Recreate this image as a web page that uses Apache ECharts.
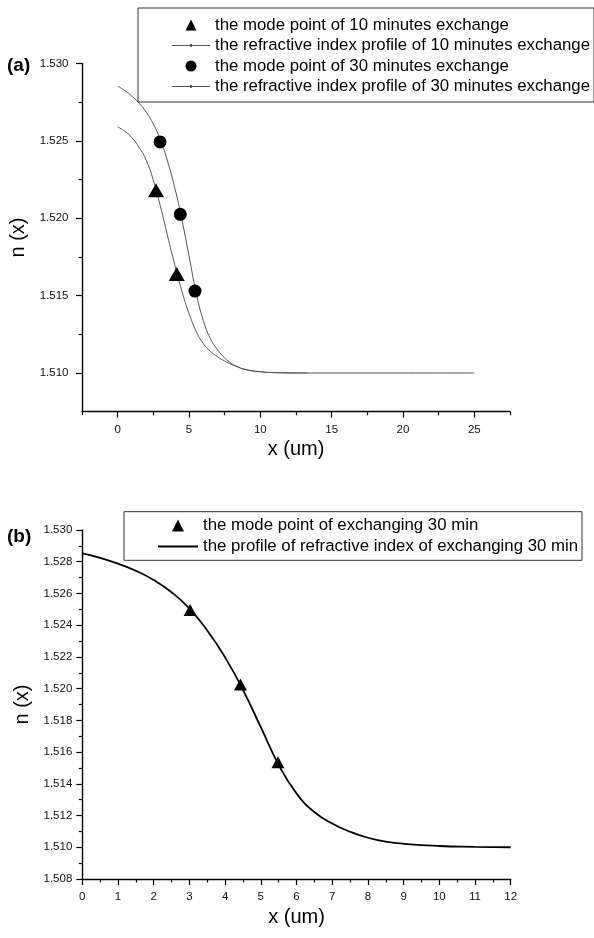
<!DOCTYPE html>
<html>
<head>
<meta charset="utf-8">
<script src="https://cdn.jsdelivr.net/npm/echarts@6/dist/echarts.min.js"></script>
<style>
  html, body { margin: 0; padding: 0; background: #fff; }
  #chart { width: 594px; height: 938px; }
</style>
</head>
<body>
<div id="chart"></div>
<script>
// ---- panel (a) data ----
const modeX10 = [2.69, 4.14];
const modeN10 = [1.5218, 1.5164];
const modeX30 = [2.97, 4.39, 5.42];
const modeN30 = [1.52493, 1.52025, 1.51529];

const profileX10 = [0, 0.5, 1, 1.5, 2, 2.5, 3, 3.5, 4, 4.5, 5, 5.5, 6, 6.5, 7, 7.5, 8, 9, 10, 11, 13, 25];
const profileN10 = [1.52590, 1.52562, 1.52520, 1.52458, 1.52375, 1.52245, 1.52075, 1.51885, 1.51700, 1.51530,
                    1.51385, 1.51270, 1.51190, 1.51140, 1.51105, 1.51077, 1.51055, 1.51022, 1.51008, 1.51002, 1.51000, 1.51000];

const profileX30 = [0, 0.5, 1, 1.5, 2, 2.5, 3, 3.5, 4, 4.5, 5, 5.5, 6, 6.5, 7, 7.5, 8, 8.5, 9, 10, 11, 13.3];
const profileN30 = [1.52853, 1.52825, 1.52788, 1.52743, 1.52685, 1.52608, 1.52505, 1.52367, 1.52197, 1.51992,
                    1.51757, 1.51520, 1.51340, 1.51222, 1.51150, 1.51098, 1.51060, 1.51036, 1.51022, 1.51008, 1.51003, 1.51000];

// ---- panel (b) data ----
const modeXB = [3.02, 4.43, 5.48];
const modeNB = [1.52495, 1.52026, 1.51536];

const profileXB = [0, 0.5, 1, 1.5, 2, 2.5, 3, 3.5, 4, 4.5, 5, 5.5, 6, 6.5, 7, 7.5, 8, 8.5, 9, 10, 11, 12];
const profileNB = [1.52853, 1.52825, 1.52788, 1.52743, 1.52685, 1.52608, 1.52505, 1.52367, 1.52197, 1.51992,
                   1.51757, 1.51520, 1.51340, 1.51222, 1.51150, 1.51098, 1.51060, 1.51036, 1.51022, 1.51008, 1.51003, 1.51000];

// ---- ticks ----
const majorXA = [0, 5, 10, 15, 20, 25];
const minorXA = [-2.5, 2.5, 7.5, 12.5, 17.5, 22.5, 27.5];
const majorYA = [1.510, 1.515, 1.520, 1.525, 1.530];
const minorYA = [1.5125, 1.5175, 1.5225, 1.5275];
const majorXB = [0, 1, 2, 3, 4, 5, 6, 7, 8, 9, 10, 11, 12];
const minorXB = [0.5, 1.5, 2.5, 3.5, 4.5, 5.5, 6.5, 7.5, 8.5, 9.5, 10.5, 11.5];
const majorYB = [1.508, 1.510, 1.512, 1.514, 1.516, 1.518, 1.520, 1.522, 1.524, 1.526, 1.528, 1.530];
const minorYB = [1.509, 1.511, 1.513, 1.515, 1.517, 1.519, 1.521, 1.523, 1.525, 1.527, 1.529];

const FONT = 'Liberation Sans, Arial, sans-serif';

// legend icons
const ICON_TRIANGLE = 'path://M5,0L10,10L0,10Z';
const ICON_THIN_LINE = 'path://M0,4H40V5H0Z M19,3H21V6H19Z';
const ICON_THICK_LINE = 'path://M0,0H40V2H0Z';

function zip(xs, ys) {
    return xs.map((x, i) => [x, ys[i]]);
}

// main axis: line, labels, long ticks
function mainAxis(grid, min, max, major, opts) {
    return Object.assign({
        type: 'value',
        gridIndex: grid,
        min: min,
        max: max,
        splitLine: { show: false },
        axisLine: { show: true, onZero: false, lineStyle: { color: '#000', width: 1.4 } },
        axisTick: { show: true, length: 6, customValues: major, lineStyle: { color: '#000', width: 1.2 } },
        axisLabel: { customValues: major, color: '#111', fontSize: 11.5, fontFamily: FONT },
        nameLocation: 'middle',
        nameTextStyle: { fontSize: 20, fontFamily: FONT, color: '#000' }
    }, opts);
}

// overlay axis carrying only the short minor ticks
function minorAxis(grid, min, max, minor, position) {
    return {
        type: 'value',
        gridIndex: grid,
        position: position,
        min: min,
        max: max,
        splitLine: { show: false },
        axisLine: { show: false, onZero: false },
        axisLabel: { show: false },
        axisTick: { show: true, length: 3.5, customValues: minor, lineStyle: { color: '#000', width: 1.2 } }
    };
}

const fmt = v => v.toFixed(3);

const chart = echarts.init(document.getElementById('chart'));

const option = {
    animation: false,
    backgroundColor: '#fff',
    title: [
        { text: '(a)', left: 7, top: 56, padding: 0, textStyle: { fontSize: 19, fontWeight: 'bold', fontFamily: FONT, color: '#000' } },
        { text: '(b)', left: 7, top: 527, padding: 0, textStyle: { fontSize: 19, fontWeight: 'bold', fontFamily: FONT, color: '#000' } }
    ],
    grid: [
        { left: 82, right: 84, top: 63.4, bottom: 526.3 },
        { left: 82.3, right: 83.3, top: 530, bottom: 59 }
    ],
    legend: [
        {
            left: 138, top: 8, orient: 'vertical', selectedMode: false,
            data: [
                { name: 'the mode point of 10 minutes exchange', icon: ICON_TRIANGLE },
                { name: 'the refractive index profile of 10 minutes exchange', icon: ICON_THIN_LINE },
                { name: 'the mode point of 30 minutes exchange', icon: 'circle' },
                { name: 'the refractive index profile of 30 minutes exchange', icon: ICON_THIN_LINE }
            ],
            itemWidth: 38, itemHeight: 11, itemGap: 3.5,
            itemStyle: { borderWidth: 0 },
            padding: [8.5, 4, 7, 34],
            borderColor: '#333', borderWidth: 1,
            textStyle: { fontSize: 16.8, lineHeight: 17, fontFamily: FONT, color: '#000' }
        },
        {
            left: 124, top: 511.7, orient: 'vertical', selectedMode: false,
            data: [
                { name: 'the mode point of exchanging 30 min', icon: ICON_TRIANGLE },
                { name: 'the profile of refractive index of exchanging 30 min', icon: ICON_THICK_LINE }
            ],
            itemWidth: 40, itemHeight: 12, itemGap: 4,
            itemStyle: { borderWidth: 0 },
            padding: [5.3, 4, 5.3, 34],
            borderColor: '#333', borderWidth: 1,
            textStyle: { fontSize: 16.8, lineHeight: 17, fontFamily: FONT, color: '#000' }
        }
    ],
    xAxis: [
        mainAxis(0, -2.5, 27.5, majorXA, {
            name: 'x (um)', nameGap: 28,
            axisLabel: { customValues: majorXA, margin: 12, color: '#111', fontSize: 11.5, fontFamily: FONT }
        }),
        minorAxis(0, -2.5, 27.5, minorXA, 'bottom'),
        mainAxis(1, 0, 12, majorXB, {
            name: 'x (um)', nameGap: 28,
            axisLabel: { customValues: majorXB, margin: 12, color: '#111', fontSize: 11.5, fontFamily: FONT }
        }),
        minorAxis(1, 0, 12, minorXB, 'bottom')
    ],
    yAxis: [
        mainAxis(0, 1.5075, 1.530, majorYA, {
            name: 'n (x)', nameGap: 42,
            axisLabel: { customValues: majorYA, margin: 13.5, formatter: fmt, color: '#111', fontSize: 11.5, fontFamily: FONT }
        }),
        minorAxis(0, 1.5075, 1.530, minorYA, 'left'),
        mainAxis(1, 1.508, 1.530, majorYB, {
            name: 'n (x)', nameGap: 43,
            axisLabel: { customValues: majorYB, margin: 10, formatter: fmt, color: '#111', fontSize: 11.5, fontFamily: FONT }
        }),
        minorAxis(1, 1.508, 1.530, minorYB, 'left')
    ],
    series: [
        {
            name: 'the refractive index profile of 10 minutes exchange',
            type: 'line', xAxisIndex: 0, yAxisIndex: 0,
            data: zip(profileX10, profileN10),
            smooth: 0.5, symbol: 'none',
            lineStyle: { color: '#555', width: 1 },
            itemStyle: { color: '#555' }
        },
        {
            name: 'the refractive index profile of 30 minutes exchange',
            type: 'line', xAxisIndex: 0, yAxisIndex: 0,
            data: zip(profileX30, profileN30),
            smooth: 0.5, symbol: 'none',
            lineStyle: { color: '#555', width: 1 },
            itemStyle: { color: '#555' }
        },
        {
            name: 'the mode point of 10 minutes exchange',
            type: 'scatter', xAxisIndex: 0, yAxisIndex: 0,
            data: zip(modeX10, modeN10),
            symbol: 'triangle', symbolSize: [16, 14],
            itemStyle: { color: '#000', opacity: 1 }, z: 5
        },
        {
            name: 'the mode point of 30 minutes exchange',
            type: 'scatter', xAxisIndex: 0, yAxisIndex: 0,
            data: zip(modeX30, modeN30),
            symbol: 'circle', symbolSize: 13,
            itemStyle: { color: '#000', opacity: 1 }, z: 5
        },
        {
            name: 'the profile of refractive index of exchanging 30 min',
            type: 'line', xAxisIndex: 2, yAxisIndex: 2,
            data: zip(profileXB, profileNB),
            smooth: 0.5, symbol: 'none',
            lineStyle: { color: '#000', width: 1.8 },
            itemStyle: { color: '#000' }
        },
        {
            name: 'the mode point of exchanging 30 min',
            type: 'scatter', xAxisIndex: 2, yAxisIndex: 2,
            data: zip(modeXB, modeNB),
            symbol: 'triangle', symbolSize: [13, 12],
            itemStyle: { color: '#000', opacity: 1 }, z: 5
        }
    ]
};

chart.setOption(option);
</script>
</body>
</html>
